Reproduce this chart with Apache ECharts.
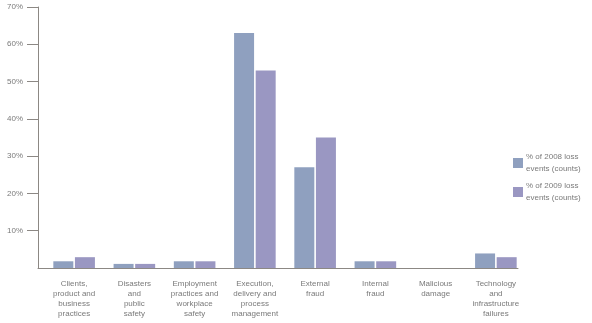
<!DOCTYPE html>
<html>
<head>
<meta charset="utf-8">
<script src="https://cdn.jsdelivr.net/npm/echarts@6/dist/echarts.min.js"></script>
<style>html,body{margin:0;padding:0;background:#fff}#c{width:592px;height:323px}</style>
</head>
<body>
<div id="c"></div>
<script>
const categories = [
  "Clients,\nproduct and\nbusiness\npractices",
  "Disasters\nand\npublic\nsafety",
  "Employment\npractices and\nworkplace\nsafety",
  "Execution,\ndelivery and\nprocess\nmanagement",
  "External\nfraud",
  "Internal\nfraud",
  "Malicious\ndamage",
  "Technology\nand\ninfrastructure\nfailures"
];
const seriesNames = ["% of 2008 loss\nevents (counts)", "% of 2009 loss\nevents (counts)"];
const values2008 = [1.8, 1.1, 1.8, 63, 27, 1.8, 0, 3.9];
const values2009 = [2.9, 1.1, 1.8, 53, 35, 1.8, 0, 2.9];
const yTicks = [10, 20, 30, 40, 50, 60, 70];
const yMin = 0, yMax = 70;

const font = "Liberation Sans";
const txt = "#7a7a7a";
const axisCol = "#8c8884";

const chart = echarts.init(document.getElementById('c'), null, {renderer: 'canvas'});
chart.setOption({
  animation: false,
  textStyle: {fontFamily: font},
  grid: [
    {left: 38, right: 74, top: 7, bottom: 55},
    {left: 44, right: 66, top: 7, bottom: 55}
  ],
  legend: {
    orient: 'vertical',
    left: 513, top: 151, padding: 0,
    itemWidth: 10, itemHeight: 10, itemGap: 5,
    icon: 'rect',
    data: seriesNames,
    textStyle: {fontFamily: font, fontSize: 8, color: txt, lineHeight: 12, padding: [0, 0, 0, -2]}
  },
  xAxis: [
    {gridIndex: 0, type: 'value', min: 0, max: 1, axisLine: {show: true, lineStyle: {color: axisCol, width: 1}},
     axisTick: {show: false}, axisLabel: {show: false}, splitLine: {show: false}},
    {gridIndex: 1, type: 'category', data: categories, axisLine: {show: false}, axisTick: {show: false},
     axisLabel: {interval: 0, fontFamily: font, fontSize: 8, color: txt, lineHeight: 10, margin: 11, align: 'center'}}
  ],
  yAxis: [
    {gridIndex: 0, type: 'value', min: yMin, max: yMax, interval: 10,
     axisLine: {show: true, lineStyle: {color: axisCol, width: 1}},
     axisTick: {show: true, length: 11, lineStyle: {color: axisCol}, customValues: yTicks},
     axisLabel: {fontFamily: font, fontSize: 8, color: txt, margin: 15, customValues: yTicks,
       formatter: v => v + '%'},
     splitLine: {show: false}},
    {gridIndex: 1, type: 'value', min: yMin, max: yMax, show: false}
  ],
  series: [
    {name: seriesNames[0], type: 'bar', xAxisIndex: 1, yAxisIndex: 1, data: values2008,
     barWidth: 20, barGap: '8%', itemStyle: {color: '#8fa0bf'}},
    {name: seriesNames[1], type: 'bar', xAxisIndex: 1, yAxisIndex: 1, data: values2009,
     barWidth: 20, itemStyle: {color: '#9a97c2'}}
  ]
});
</script>
</body>
</html>
